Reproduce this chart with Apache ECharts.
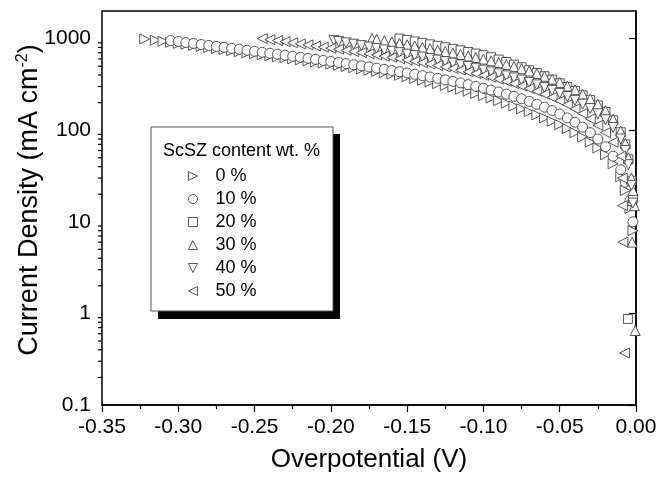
<!DOCTYPE html>
<html><head><meta charset="utf-8">
<script src="https://cdn.jsdelivr.net/npm/echarts@6/dist/echarts.min.js"></script>
<style>html,body{margin:0;padding:0;background:#fff}#c{width:671px;height:478px}</style>
</head><body><div id="c"></div>
<script>
// ---- data (overpotential V, current density mA cm^-2) ----
const seriesNames = ['0 %','10 %','20 %','30 %','40 %','50 %'];

const eta0 = [-0.322,-0.315,-0.310,-0.305,-0.300,-0.295,-0.290,-0.285,-0.280,-0.275,-0.270,-0.265,-0.260,-0.255,-0.250,-0.245,-0.240,-0.235,-0.230,-0.225,-0.220,-0.215,-0.210,-0.205,-0.200,-0.195,-0.190,-0.185,-0.180,-0.175,-0.170,-0.165,-0.160,-0.155,-0.150,-0.145,-0.140,-0.135,-0.130,-0.125,-0.120,-0.115,-0.110,-0.105,-0.100,-0.095,-0.090,-0.085,-0.080,-0.075,-0.070,-0.065,-0.060,-0.055,-0.050,-0.045,-0.040,-0.035,-0.030,-0.025,-0.020,-0.015,-0.010,-0.007,-0.004,-0.002];
const j0 = [990,960,935,910,885,865,842,820,798,778,758,738,718,700,682,665,648,632,616,600,585,570,555,540,525,510,495,480,466,452,438,424,410,397,384,368,350,336,322,308,294,280,266,252,238,224,210,197,184,171,159,147,136,125,115,104,94,84,74,64,54,43,31,22,14,8];

const eta1 = [-0.305,-0.300,-0.295,-0.290,-0.285,-0.280,-0.275,-0.270,-0.265,-0.260,-0.255,-0.250,-0.245,-0.240,-0.235,-0.230,-0.225,-0.220,-0.215,-0.210,-0.205,-0.200,-0.195,-0.190,-0.185,-0.180,-0.175,-0.170,-0.165,-0.160,-0.155,-0.150,-0.145,-0.140,-0.135,-0.130,-0.125,-0.120,-0.115,-0.110,-0.105,-0.100,-0.095,-0.090,-0.085,-0.080,-0.075,-0.070,-0.065,-0.060,-0.055,-0.050,-0.045,-0.040,-0.035,-0.030,-0.025,-0.020,-0.015,-0.010,-0.007,-0.004,-0.002];
const j1 = [950,930,905,885,862,842,822,802,783,764,745,727,709,692,675,658,641,625,609,593,578,563,548,533,518,504,490,476,462,448,435,421,408,394,381,368,354,341,328,314,301,288,274,261,247,234,220,206,192,178,164,150,136,122,108,94,80,66,52,37,27,17,10];

const eta5 = [-0.155,-0.150,-0.145,-0.140,-0.135,-0.130,-0.125,-0.120,-0.115,-0.110,-0.105,-0.100,-0.095,-0.090,-0.085,-0.080,-0.075,-0.070,-0.065,-0.060,-0.055,-0.050,-0.045,-0.040,-0.035,-0.030,-0.025,-0.020,-0.015,-0.010,-0.007,-0.005,-0.003,-0.002,-0.0053];
const j5 = [1000,965,930,897,865,834,803,773,743,714,686,658,625,590,555,520,486,452,420,388,356,325,296,268,240,213,186,158,128,95,70,48,28,18,0.87];

const eta4 = [-0.173,-0.170,-0.165,-0.160,-0.155,-0.150,-0.145,-0.140,-0.135,-0.130,-0.125,-0.120,-0.115,-0.110,-0.105,-0.100,-0.095,-0.090,-0.085,-0.080,-0.075,-0.070,-0.065,-0.060,-0.055,-0.050,-0.045,-0.040,-0.035,-0.030,-0.025,-0.020,-0.015,-0.010,-0.007,-0.005,-0.003,-0.002,-0.001,-0.0026,-0.0005];
const j4 = [1000,980,948,917,887,858,830,802,775,748,722,696,671,646,621,597,572,547,522,496,470,443,416,388,360,332,304,276,248,220,192,163,132,98,72,50,30,22,15,6,0.65];

const eta3 = [-0.198,-0.195,-0.190,-0.185,-0.180,-0.175,-0.170,-0.165,-0.160,-0.155,-0.150,-0.145,-0.140,-0.135,-0.130,-0.125,-0.120,-0.115,-0.110,-0.105,-0.100,-0.095,-0.090,-0.085,-0.080,-0.075,-0.070,-0.065,-0.060,-0.055,-0.050,-0.045,-0.040,-0.035,-0.030,-0.025,-0.020,-0.015,-0.010,-0.007,-0.005,-0.003,-0.002];
const j3 = [950,930,898,867,837,808,780,753,727,701,676,652,628,605,582,560,538,516,495,474,453,432,412,392,372,352,332,312,292,272,252,232,212,192,172,151,130,107,80,60,42,25,16];

const eta2 = [-0.245,-0.240,-0.235,-0.230,-0.225,-0.220,-0.215,-0.210,-0.205,-0.200,-0.195,-0.190,-0.185,-0.180,-0.175,-0.170,-0.165,-0.160,-0.155,-0.150,-0.145,-0.140,-0.135,-0.130,-0.125,-0.120,-0.115,-0.110,-0.105,-0.100,-0.095,-0.090,-0.085,-0.080,-0.075,-0.070,-0.065,-0.060,-0.055,-0.050,-0.045,-0.040,-0.035,-0.030,-0.025,-0.020,-0.015,-0.010,-0.009,-0.0088,-0.0086,-0.0075];
const j2 = [1000,975,950,925,900,876,853,830,808,786,764,743,722,702,682,662,642,622,603,584,565,546,527,508,490,471,452,434,415,397,378,360,341,322,304,285,266,247,228,209,190,171,152,133,113,94,74,52,30,15,6,0.37];

const xTicks = {min: -0.35, max: 0, interval: 0.05};
const yRange = {min: 0.1, max: 2000};
const yMinorTicks = [0.2,0.3,0.4,0.5,0.6,0.7,0.8,0.9,2,3,4,5,6,7,8,9,20,30,40,50,60,70,80,90,200,300,400,500,600,700,800,900];

// ---- chart ----
const FONT = "'Liberation Sans', Arial, sans-serif";
const SYM = {
  right: 'path://M0,0L10,5L0,10Z',
  left: 'path://M10,0L0,5L10,10Z',
  up: 'path://M5,0L10,10L0,10Z',
  down: 'path://M0,0L10,0L5,10Z',
  circle: 'circle',
  square: 'rect'
};
const zip = (a, b) => a.map((v, i) => [v, b[i]]);
const markers = [
  {name: '0 %', x: eta0, y: j0, sym: 'right', size: 10},
  {name: '10 %', x: eta1, y: j1, sym: 'circle', size: 10},
  {name: '20 %', x: eta5, y: j5, sym: 'square', size: 9},
  {name: '30 %', x: eta4, y: j4, sym: 'up', size: 10},
  {name: '40 %', x: eta3, y: j3, sym: 'down', size: 10},
  {name: '50 %', x: eta2, y: j2, sym: 'left', size: 10}
];
const markStyle = {color: '#fff', borderColor: '#444', borderWidth: 0.9, opacity: 1};

const series = markers.map(m => ({
  name: m.name, type: 'scatter', data: zip(m.x, m.y),
  symbol: SYM[m.sym], symbolSize: m.size, symbolKeepAspect: true,
  itemStyle: markStyle,
  clip: false, silent: true, animation: false
}));
series.push({
  name: 'minorTicks', type: 'custom', silent: true, animation: false,
  data: yMinorTicks.map(v => [xTicks.min, v]),
  renderItem: (params, api) => {
    const p = api.coord([api.value(0), api.value(1)]);
    return {type: 'line', shape: {x1: p[0] - 4, y1: p[1], x2: p[0], y2: p[1]},
      style: {stroke: '#000', lineWidth: 1.2}};
  },
  z: 5
});

const chart = echarts.init(document.getElementById('c'), null, {renderer: 'canvas'});
chart.setOption({
  animation: false,
  backgroundColor: '#fff',
  textStyle: {fontFamily: FONT},
  grid: {left: 102, right: 35, top: 11, bottom: 69, show: true, borderColor: '#000', borderWidth: 1.5, backgroundColor: 'transparent'},
  xAxis: {
    type: 'value', min: xTicks.min, max: xTicks.max, interval: xTicks.interval,
    name: 'Overpotential (V)', nameLocation: 'middle', nameGap: 42,
    nameTextStyle: {fontSize: 26, color: '#000', fontFamily: FONT},
    axisLine: {show: true, lineStyle: {color: '#000', width: 1.5}},
    axisTick: {show: true, inside: false, length: 7, lineStyle: {color: '#000', width: 1.2}},
    minorTick: {show: true, splitNumber: 2, length: 4, lineStyle: {color: '#000', width: 1.2}},
    splitLine: {show: false},
    axisLabel: {fontSize: 21, color: '#000', margin: 12, fontFamily: FONT, formatter: v => v.toFixed(2)}
  },
  yAxis: {
    type: 'log', logBase: 10, min: yRange.min, max: yRange.max,
    name: 'Current Density (mA cm{sup|-2})', nameLocation: 'middle', nameGap: 57, nameRotate: 90,
    nameMoveOverlap: false,
    nameTextStyle: {fontSize: 27, color: '#000', fontFamily: FONT, padding: [0, 0, 0, 16],
      rich: {sup: {fontSize: 16, color: '#000', fontFamily: FONT, padding: [0, 0, 14, 0]}}},
    axisLine: {show: true, lineStyle: {color: '#000', width: 1.5}},
    axisTick: {show: true, inside: false, length: 7, lineStyle: {color: '#000', width: 1.2}},
    splitLine: {show: false},
    axisLabel: {fontSize: 21, color: '#000', margin: 11, fontFamily: FONT, showMaxLabel: false,
      formatter: v => (v < 1 ? String(Math.round(v * 10) / 10) : String(Math.round(v)))}
  },
  legend: {
    data: markers.map(m => ({name: m.name, icon: SYM[m.sym], itemStyle: markStyle})),
    orient: 'vertical', left: 183, top: 162, z: 100,
    itemWidth: 9, itemHeight: 9, itemGap: 5,
    textStyle: {fontSize: 18, color: '#000', fontFamily: FONT, padding: [0, 0, 0, 13]},
    selectedMode: false
  },
  graphic: [
    {type: 'rect', z: 90, shape: {x: 158, y: 134, width: 182, height: 185}, style: {fill: '#000'}},
    {type: 'rect', z: 91, shape: {x: 151, y: 127, width: 182, height: 184}, style: {fill: '#fff', stroke: '#555', lineWidth: 1}},
    {type: 'text', z: 92, left: 163, top: 142, style: {text: 'ScSZ content wt. %', fontSize: 18, fill: '#000', fontFamily: FONT}}
  ],
  series: series
});
</script></body></html>
